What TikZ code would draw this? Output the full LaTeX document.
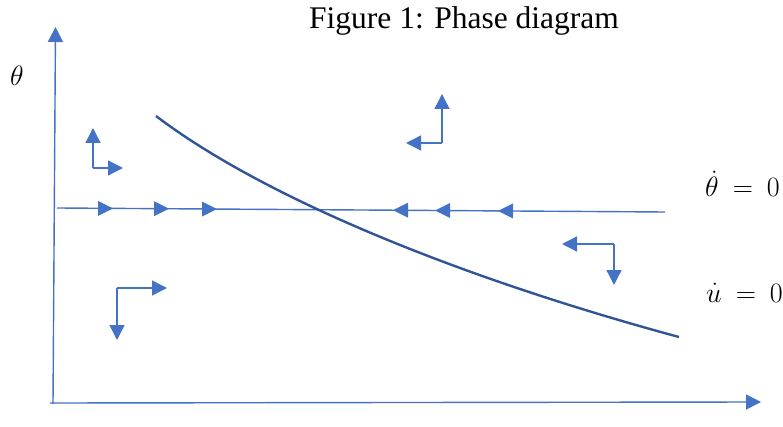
\RequirePackage{fix-cm}
\documentclass[tikz,border=0pt]{standalone}
\usepackage{fontspec}
\setmainfont{Liberation Serif}
\usetikzlibrary{arrows.meta}
\definecolor{lblue}{HTML}{4472C4}
\definecolor{dblue}{HTML}{2F5597}
\tikzset{
  thin line/.style={draw=lblue, line width=1.4pt},
  arr/.style={thin line, -{Triangle[length=15pt,width=15pt]}},
  curveline/.style={draw=dblue, line width=2.4pt},
  mathlbl/.style={inner sep=0pt, font=\fontsize{28}{30}\selectfont},
}
\newcommand\rtri[2]{\fill[lblue] (#1,#2) -- ++(-15,7.5) -- ++(0,-15) -- cycle;}
\newcommand\ltri[2]{\fill[lblue] (#1,#2) -- ++(15,7.5) -- ++(0,-15) -- cycle;}
\begin{document}
\begin{tikzpicture}[x=1pt,y=-1pt]
\useasboundingbox (0,0) rectangle (783,427);
% title
\node[inner sep=0pt, anchor=base, font=\fontsize{31.5}{34}\selectfont] (title) at (464,29) {Figure 1: Phase diagram};
% axes
\coordinate (origin) at (53,403);
\coordinate (ytip) at (55.5,27);
\coordinate (xtip) at (761,402);
\draw[arr] (53,404) -- (ytip);
\draw[arr] (50,403) -- (xtip);
\node[mathlbl, anchor=base west] (thlbl) at (10,86) {$\theta$};
% theta-dot = 0 line
\coordinate (h1) at (57,208);
\coordinate (h2) at (665,212);
\draw[thin line] (h1) -- (h2);
\rtri{113}{208.4}
\rtri{169}{208.7}
\rtri{217}{209.1}
\ltri{393}{210.2}
\ltri{435}{210.5}
\ltri{498}{210.9}
% u-dot = 0 curve
\coordinate (c1) at (156,116);
\coordinate (c2) at (679,337);
\draw[curveline] (c1) .. controls (260,195) and (450,275) .. (c2);
% labels
\node[mathlbl, anchor=base west] (thdot) at (705,197) {$\dot{\theta}\mkern4mu=\mkern4mu0$};
\node[mathlbl, anchor=base west] (udot) at (706,302) {$\dot{u}\mkern4mu=\mkern4mu0$};
% direction arrows
\coordinate (a1) at (93,168);
\draw[arr] (a1) -- (93,128);
\draw[arr] (a1) -- (123,168);
\coordinate (a2) at (442,143);
\draw[arr] (a2) -- (442,94);
\draw[arr] (a2) -- (406,143);
\coordinate (a3) at (614,244);
\draw[arr] (a3) -- (562,244);
\draw[arr] (a3) -- (614,285);
\coordinate (a4) at (117,288);
\draw[arr] (a4) -- (167,288);
\draw[arr] (a4) -- (117,340);
\end{tikzpicture}
\end{document}
